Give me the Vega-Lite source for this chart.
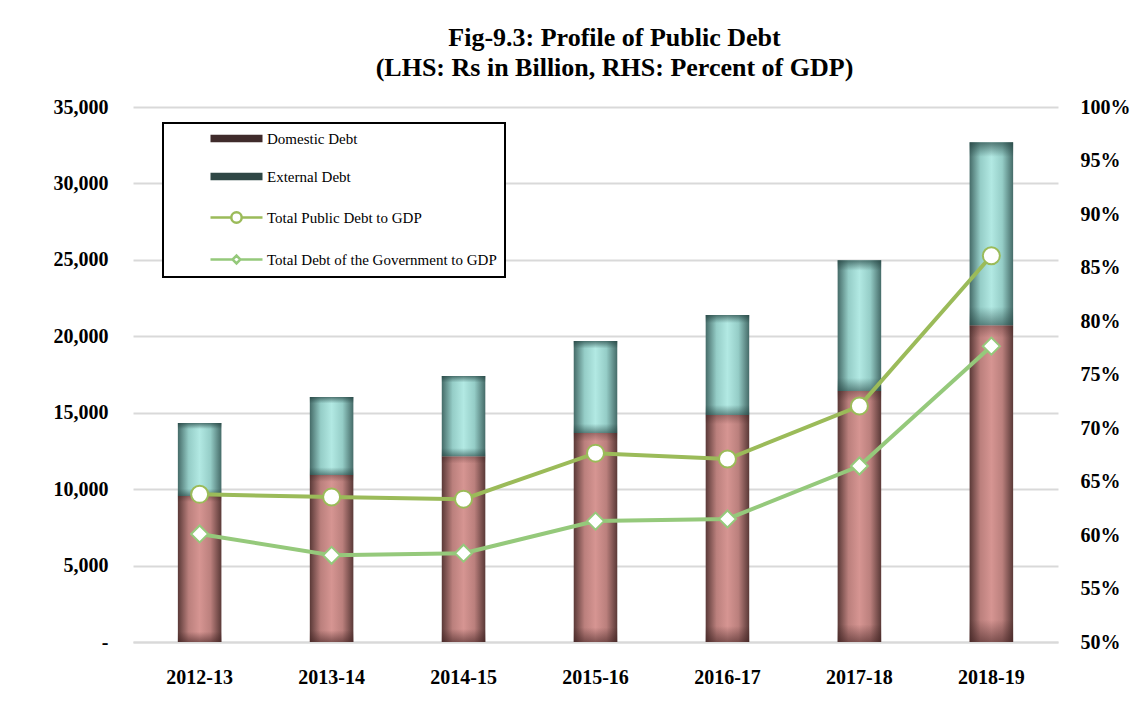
{
  "$schema": "https://vega.github.io/schema/vega-lite/v6.json",
  "width": 925,
  "height": 535,
  "autosize": "none",
  "padding": {"left": 133, "top": 107, "right": 90, "bottom": 77},
  "background": "white",
  "title": {
    "text": ["Fig-9.3: Profile of Public Debt", "(LHS: Rs in Billion, RHS: Percent of GDP)"],
    "font": "Liberation Serif",
    "fontSize": 26,
    "fontWeight": "bold",
    "color": "black",
    "anchor": "middle",
    "lineHeight": 30,
    "dx": 19,
    "offset": 16
  },
  "datasets": {
    "debt": [
      {"year": "2012-13", "domestic": 9550, "total": 14320},
      {"year": "2013-14", "domestic": 10920, "total": 16020},
      {"year": "2014-15", "domestic": 12160, "total": 17400},
      {"year": "2015-16", "domestic": 13670, "total": 19690},
      {"year": "2016-17", "domestic": 14850, "total": 21390},
      {"year": "2017-18", "domestic": 16420, "total": 24980},
      {"year": "2018-19", "domestic": 20730, "total": 32700}
    ],
    "ratios": [
      {"year": "2012-13", "series": "Total Public Debt to GDP", "pct": 63.8},
      {"year": "2013-14", "series": "Total Public Debt to GDP", "pct": 63.55},
      {"year": "2014-15", "series": "Total Public Debt to GDP", "pct": 63.35},
      {"year": "2015-16", "series": "Total Public Debt to GDP", "pct": 67.65},
      {"year": "2016-17", "series": "Total Public Debt to GDP", "pct": 67.1},
      {"year": "2017-18", "series": "Total Public Debt to GDP", "pct": 72.05},
      {"year": "2018-19", "series": "Total Public Debt to GDP", "pct": 86.1},
      {"year": "2012-13", "series": "Total Debt of the Government to GDP", "pct": 60.1},
      {"year": "2013-14", "series": "Total Debt of the Government to GDP", "pct": 58.1},
      {"year": "2014-15", "series": "Total Debt of the Government to GDP", "pct": 58.3},
      {"year": "2015-16", "series": "Total Debt of the Government to GDP", "pct": 61.3},
      {"year": "2016-17", "series": "Total Debt of the Government to GDP", "pct": 61.5},
      {"year": "2017-18", "series": "Total Debt of the Government to GDP", "pct": 66.45},
      {"year": "2018-19", "series": "Total Debt of the Government to GDP", "pct": 77.65}
    ]
  },
  "encoding": {
    "x": {
      "field": "year",
      "type": "nominal",
      "sort": null,
      "title": null,
      "scale": {"paddingInner": 0.67, "paddingOuter": 0.34},
      "axis": {
        "labelAngle": 0,
        "labelFont": "Liberation Serif",
        "labelFontSize": 20,
        "labelFontWeight": "bold",
        "labelColor": "black",
        "labelPadding": 25,
        "ticks": false,
        "domainColor": "#d9d9d9",
        "domainWidth": 2,
        "grid": false
      }
    }
  },
  "layer": [
    {
      "layer": [
        {
          "data": {"name": "debt"},
          "mark": {
            "type": "bar",
            "color": {
              "gradient": "linear", "x1": 0, "y1": 0, "x2": 1, "y2": 0,
              "stops": [
                {"offset": 0, "color": "#5a3937"},
                {"offset": 0.25, "color": "#bb807d"},
                {"offset": 0.5, "color": "#d69592"},
                {"offset": 0.75, "color": "#bb807d"},
                {"offset": 1, "color": "#5a3937"}
              ]
            }
          },
          "encoding": {
            "y": {
              "field": "domestic",
              "type": "quantitative",
              "title": null,
              "scale": {"domain": [0, 35000]},
              "axis": {
                "values": [0, 5000, 10000, 15000, 20000, 25000, 30000, 35000],
                "labelExpr": "datum.value == 0 ? '-\u00a0\u00a0\u00a0' : format(datum.value, ',')",
                "labelFont": "Liberation Serif",
                "labelFontSize": 20,
                "labelFontWeight": "bold",
                "labelColor": "black",
                "labelPadding": 25,
                "ticks": false,
                "domain": false,
                "grid": true,
                "gridColor": "#d9d9d9",
                "gridWidth": 2
              }
            },
            "y2": {"datum": 0}
          }
        },
        {
          "data": {"name": "debt"},
          "mark": {
            "type": "bar",
            "color": {
              "gradient": "linear", "x1": 0, "y1": 0, "x2": 1, "y2": 0,
              "stops": [
                {"offset": 0, "color": "#456b68"},
                {"offset": 0.25, "color": "#95cdc7"},
                {"offset": 0.5, "color": "#b2e9e3"},
                {"offset": 0.75, "color": "#95cdc7"},
                {"offset": 1, "color": "#456b68"}
              ]
            }
          },
          "encoding": {
            "y": {"field": "total", "type": "quantitative"},
            "y2": {"field": "domestic"}
          }
        },
        {
          "data": {"name": "debt"},
          "mark": {
            "type": "bar",
            "color": {
              "gradient": "linear", "x1": 0, "y1": 0, "x2": 0, "y2": 1,
              "stops": [
                {"offset": 0, "color": "rgba(60,30,30,0.35)"},
                {"offset": 0.04, "color": "rgba(60,30,30,0)"},
                {"offset": 0.93, "color": "rgba(60,30,30,0)"},
                {"offset": 1, "color": "rgba(60,30,30,0.55)"}
              ]
            }
          },
          "encoding": {
            "y": {"field": "domestic", "type": "quantitative"},
            "y2": {"datum": 0}
          }
        },
        {
          "data": {"name": "debt"},
          "mark": {
            "type": "bar",
            "color": {
              "gradient": "linear", "x1": 0, "y1": 0, "x2": 0, "y2": 1,
              "stops": [
                {"offset": 0, "color": "rgba(30,60,58,0.65)"},
                {"offset": 0.08, "color": "rgba(30,60,58,0)"},
                {"offset": 0.9, "color": "rgba(30,60,58,0)"},
                {"offset": 1, "color": "rgba(30,60,58,0.55)"}
              ]
            }
          },
          "encoding": {
            "y": {"field": "total", "type": "quantitative"},
            "y2": {"field": "domestic"}
          }
        }
      ]
    },
    {
      "data": {"name": "ratios"},
      "encoding": {
        "y": {
          "field": "pct",
          "type": "quantitative",
          "title": null,
          "scale": {"domain": [50, 100]},
          "axis": {
            "orient": "right",
            "values": [50, 55, 60, 65, 70, 75, 80, 85, 90, 95, 100],
            "labelExpr": "datum.value + '%'",
            "labelFont": "Liberation Serif",
            "labelFontSize": 20,
            "labelFontWeight": "bold",
            "labelColor": "black",
            "labelPadding": 22,
            "ticks": false,
            "domain": false,
            "grid": false
          }
        },
        "color": {
          "field": "series",
          "type": "nominal",
          "title": null,
          "scale": {
            "domain": ["Domestic Debt", "External Debt", "Total Public Debt to GDP", "Total Debt of the Government to GDP"],
            "range": ["#3f2b2b", "#2f4745", "#9bbb59", "#95c97b"]
          },
          "legend": {
            "orient": "none",
            "legendX": 30,
            "legendY": 16,
            "padding": 8,
            "strokeColor": "black",
            "fillColor": "white",
            "symbolSize": 676,
            "labelOffset": 23,
            "rowPadding": 22,
            "labelFont": "Liberation Serif",
            "labelFontSize": 15,
            "labelColor": "black",
            "labelLimit": 400,
            "labelExpr": "datum.label + '\u2003\u2003\u2003'",
            "symbolOffset": 58,
            "encode": {
              "legend": {
                "update": {"strokeWidth": {"value": 2}}
              },
              "symbols": {
                "update": {
                  "shape": {"signal": "datum.value === 'Domestic Debt' || datum.value === 'External Debt' ? 'M-2,-0.28H2V0.28H-2Z' : datum.value === 'Total Public Debt to GDP' ? 'M-2,0H-0.42M0.42,0H2M-0.4,0A0.4,0.4 0 1,0 0.4,0A0.4,0.4 0 1,0 -0.4,0Z' : 'M-2,0H-0.32M0.32,0H2M-0.3,0L0,-0.3L0.3,0L0,0.3Z'"},
                  "fill": {"signal": "datum.value === 'Domestic Debt' ? '#3f2b2b' : datum.value === 'External Debt' ? '#2f4745' : 'white'"},
                  "stroke": {"signal": "datum.value === 'Domestic Debt' ? '#3f2b2b' : datum.value === 'External Debt' ? '#2f4745' : datum.value === 'Total Public Debt to GDP' ? '#9bbb59' : '#95c97b'"},
                  "strokeWidth": {"signal": "datum.value === 'Domestic Debt' || datum.value === 'External Debt' ? 0 : 2.5"},
                  "opacity": {"value": 1},
                  "fillOpacity": {"value": 1}
                }
              }
            }
          }
        }
      },
      "layer": [
        {
          "mark": {"type": "line", "strokeWidth": 4}
        },
        {
          "mark": {"type": "point", "filled": false, "fill": "white", "fillOpacity": 1, "opacity": 1, "strokeWidth": 2, "size": 289},
          "encoding": {
            "shape": {
              "field": "series",
              "type": "nominal",
              "scale": {"domain": ["Total Public Debt to GDP", "Total Debt of the Government to GDP"], "range": ["circle", "diamond"]},
              "legend": null
            }
          }
        }
      ]
    }
  ],
  "resolve": {"scale": {"y": "independent"}},
  "config": {
    "view": {"stroke": null},
    "font": "Liberation Serif"
  }
}
